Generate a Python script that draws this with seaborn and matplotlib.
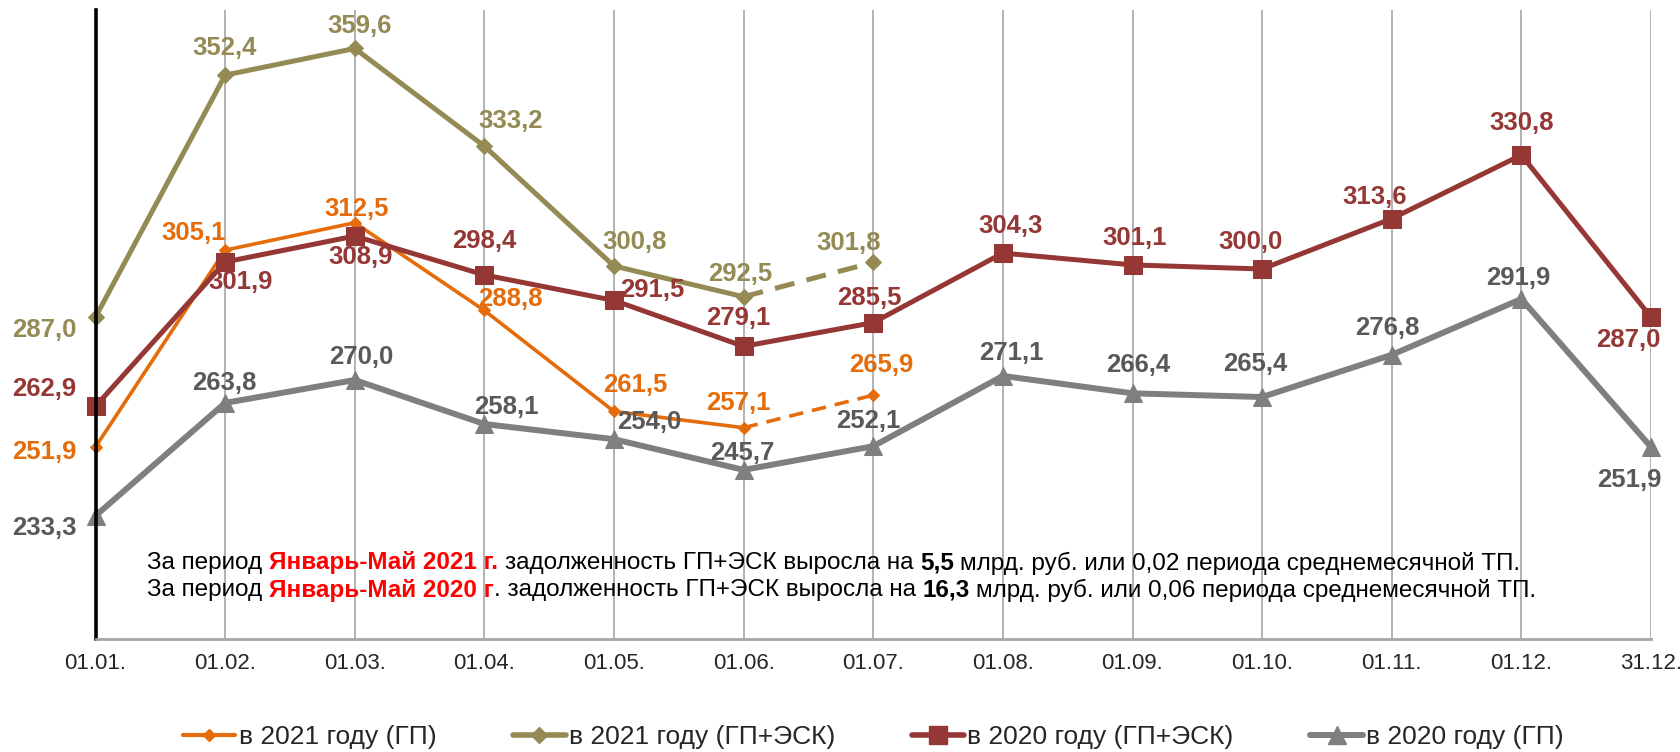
import numpy as np
import matplotlib
matplotlib.use("Agg")
import matplotlib.pyplot as plt
import seaborn as sns
from matplotlib.lines import Line2D

# ---------------- data ----------------
dates = ["01.01.", "01.02.", "01.03.", "01.04.", "01.05.", "01.06.", "01.07.",
         "01.08.", "01.09.", "01.10.", "01.11.", "01.12.", "31.12."]
gp_2021 = [251.9, 305.1, 312.5, 288.8, 261.5, 257.1, 265.9]
gpesk_2021 = [287.0, 352.4, 359.6, 333.2, 300.8, 292.5, 301.8]
gpesk_2020 = [262.9, 301.9, 308.9, 298.4, 291.5, 279.1, 285.5, 304.3, 301.1,
              300.0, 313.6, 330.8, 287.0]
gp_2020 = [233.3, 263.8, 270.0, 258.1, 254.0, 245.7, 252.1, 271.1, 266.4,
           265.4, 276.8, 291.9, 251.9]
series_names = ["в 2021 году (ГП)", "в 2021 году (ГП+ЭСК)",
                "в 2020 году (ГП+ЭСК)", "в 2020 году (ГП)"]
note_lines = [
    [("За период", "black", "normal"), ("Январь-Май 2021 г.", "#FF0000", "bold"),
     ("задолженность ГП+ЭСК выросла на", "black", "normal"), ("5,5", "black", "bold"),
     ("млрд. руб. или 0,02 периода среднемесячной ТП.", "black", "normal")],
    [("За период", "black", "normal"), ("Январь-Май 2020 г", "#FF0000", "bold"),
     (". задолженность ГП+ЭСК выросла на", "black", "normal"), ("16,3", "black", "bold"),
     ("млрд. руб. или 0,06 периода среднемесячной ТП.", "black", "normal")],
]
# gap flags between consecutive parts (False = no space)
note_gaps = [[True, True, True, True], [True, False, True, True]]

# ---------------- styles / layout ----------------
C_OR = "#E46C0A"
C_OL = "#948A54"
C_RD = "#953735"
C_GR = "#7F7F7F"
C_GR_TXT = "#595959"

# label offsets in pixels (dx right, dy up)
off_or = [(-51, -5), (-32, 17), (2, 14), (26, 11), (21, 26), (-5, 25), (8, 30)]
off_ol = [(-51, -13), (-1, 27), (5, 22), (26, 25), (21, 24), (-3, 23), (-25, 19)]
off_rd = [(-51, 17), (15, -20), (6, -21), (0, 34), (38, 10), (-5, 28), (-4, 25),
          (8, 27), (2, 27), (-12, 27), (-17, 22), (0, 32), (-23, -23)]
off_gr = [(-51, -12), (-1, 20), (6, 23), (22, 17), (35, 17), (-1, 17), (-5, 25),
          (8, 23), (6, 28), (-7, 33), (-4, 27), (-3, 21), (-22, -33)]

sns.set_style("white")
plt.rcParams["font.family"] = ["Liberation Sans", "DejaVu Sans"]

W, H = 1680, 752
fig = plt.figure(figsize=(W / 100, H / 100), dpi=100)
ax = fig.add_axes([95.5 / W, 113 / H, (1651 - 95.5) / W, (639 - 10) / H])


def draw(vals, n_solid, color, marker, ms, lw, z):
    x = np.arange(len(vals))
    sns.lineplot(x=x[:n_solid], y=vals[:n_solid], color=color, marker=marker,
                 markersize=ms, markeredgecolor=color, linewidth=lw, ax=ax,
                 clip_on=False, zorder=z, legend=False)
    if n_solid < len(vals):
        sns.lineplot(x=x[n_solid - 1:], y=vals[n_solid - 1:], color=color,
                     marker=marker, markersize=ms, markeredgecolor=color,
                     linewidth=lw, linestyle=(0, (4, 2.5)), ax=ax,
                     clip_on=False, zorder=z, legend=False,
                     markevery=[1])


draw(gp_2020, 13, C_GR, "^", 13, 4.3, 2.0)
draw(gp_2021, 6, C_OR, "D", 6.5, 2.6, 2.1)
draw(gpesk_2021, 6, C_OL, "D", 8.5, 3.6, 2.2)
draw(gpesk_2020, 13, C_RD, "s", 13, 3.6, 2.3)


def label(vals, offs, color):
    for i, (v, (dx, dy)) in enumerate(zip(vals, offs)):
        ax.annotate(f"{v:.1f}".replace(".", ","), (i, v), xytext=(dx, dy),
                    textcoords="offset pixels", ha="center", va="center",
                    fontsize=18.5, fontweight="bold", color=color,
                    annotation_clip=False, zorder=5)


label(gp_2021, off_or, C_OR)
label(gpesk_2021, off_ol, C_OL)
label(gpesk_2020, off_rd, C_RD)
label(gp_2020, off_gr, C_GR_TXT)

ax.set_xlim(0, 12)
ax.set_ylim(200, 370)
ax.set_xticks(range(len(dates)))
ax.set_xticklabels(dates, fontsize=16)
ax.tick_params(axis="x", length=0, pad=10)
ax.set_yticks([])
ax.set_xlabel("")
ax.set_ylabel("")
ax.grid(axis="x", color="#A6A6A6", linewidth=1.2)
ax.grid(axis="y", visible=False)
for s in ("top", "right"):
    ax.spines[s].set_visible(False)
ax.spines["left"].set_color("black")
ax.spines["left"].set_linewidth(2.6)
ax.spines["bottom"].set_color("#A6A6A6")
ax.spines["bottom"].set_linewidth(2)

handles = [
    Line2D([], [], color=C_OR, marker="D", markersize=6.5, lw=3.0),
    Line2D([], [], color=C_OL, marker="D", markersize=8.5, lw=4.0),
    Line2D([], [], color=C_RD, marker="s", markersize=13, lw=4.0),
    Line2D([], [], color=C_GR, marker="^", markersize=13, lw=4.3),
]
ax.legend(handles, series_names, loc="center", bbox_to_anchor=(0.5, -0.156),
          ncol=4, frameon=False, fontsize=19, handlelength=2.0,
          handletextpad=0.12, columnspacing=2.9)

# rich-formatted note
NOTE_FS = 17.5
fig.canvas.draw()
r = fig.canvas.get_renderer()
probe1 = fig.text(0, 0, "a a", fontsize=NOTE_FS)
probe2 = fig.text(0, 0, "aa", fontsize=NOTE_FS)
space_px = (probe1.get_window_extent(r).width - probe2.get_window_extent(r).width)
probe1.remove()
probe2.remove()

for parts, gaps, yf in zip(note_lines, note_gaps, [1 - 563 / H, 1 - 590 / H]):
    xp = 147.0
    for pi, (s, col, wt) in enumerate(parts):
        t = fig.text(xp / W, yf, s, color=col, fontweight=wt, fontsize=NOTE_FS,
                     ha="left", va="center")
        bb = t.get_window_extent(r)
        xp = bb.x1
        if pi < len(gaps) and gaps[pi]:
            xp += space_px

fig.savefig("out.png", dpi=100)
